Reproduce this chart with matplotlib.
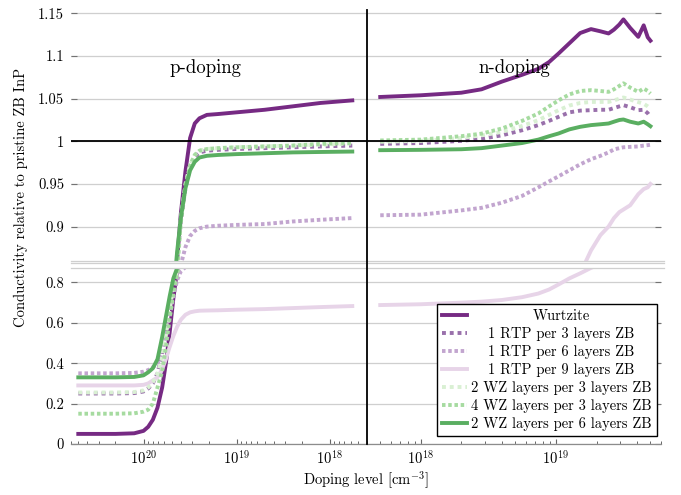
import matplotlib
matplotlib.use('Agg')
import matplotlib.pyplot as plt
import numpy as np
from matplotlib.lines import Line2D
from matplotlib.ticker import LogLocator, NullFormatter, FuncFormatter

plt.rcParams['font.family'] = 'cmr10'
plt.rcParams['mathtext.fontset'] = 'cm'
plt.rcParams['axes.formatter.use_mathtext'] = True
plt.rcParams['font.size'] = 10.5

labels = ['Wurtzite', '1 RTP per 3 layers ZB', '1 RTP per 6 layers ZB',
          '1 RTP per 9 layers ZB', '2 WZ layers per 3 layers ZB',
          '4 WZ layers per 3 layers ZB', '2 WZ layers per 6 layers ZB']
colors = ['#762a83', '#9970ab', '#c2a5cf', '#e7d4e8', '#d9f0d3', '#a6dba0', '#5aae61']
dot_wide = (0, (1.0, 1.0))
dot_tight = (0, (0.9, 0.7))
styles = ['-', dot_wide, dot_tight, '-', dot_wide, dot_tight, '-']

# p-doping, log10 of doping level [cm^-3]
p_log_doping = [20.70, 20.30, 20.10, 20.00, 19.95, 19.90, 19.85, 19.80, 19.76, 19.72,
                19.68, 19.64, 19.60, 19.55, 19.50, 19.45, 19.40, 19.32, 19.20, 19.00,
                18.70, 18.40, 18.10, 17.76]
p_wz = [0.05, 0.05, 0.053, 0.065, 0.085, 0.12, 0.18, 0.28, 0.40, 0.55,
        0.72, 0.86, 0.915, 0.965, 1.004, 1.021, 1.027, 1.031, 1.032, 1.034,
        1.037, 1.041, 1.045, 1.048]
p_rtp3 = [0.25, 0.25, 0.252, 0.26, 0.275, 0.30, 0.35, 0.45, 0.56, 0.68,
          0.79, 0.86, 0.905, 0.945, 0.97, 0.982, 0.987, 0.989, 0.990, 0.991,
          0.992, 0.993, 0.994, 0.995]
p_rtp6 = [0.35, 0.35, 0.352, 0.358, 0.366, 0.38, 0.40, 0.45, 0.53, 0.63,
          0.73, 0.81, 0.855, 0.876, 0.889, 0.895, 0.898, 0.900, 0.901, 0.902,
          0.903, 0.906, 0.908, 0.910]
p_rtp9 = [0.29, 0.29, 0.29, 0.293, 0.30, 0.315, 0.33, 0.37, 0.42, 0.48,
          0.535, 0.58, 0.615, 0.64, 0.652, 0.657, 0.66, 0.661, 0.662, 0.665,
          0.668, 0.673, 0.678, 0.683]
p_wz2_3 = [0.255, 0.255, 0.257, 0.265, 0.28, 0.305, 0.35, 0.43, 0.54, 0.66,
           0.78, 0.86, 0.91, 0.95, 0.973, 0.984, 0.989, 0.991, 0.992, 0.993,
           0.994, 0.995, 0.996, 0.9975]
p_wz4_3 = [0.15, 0.15, 0.152, 0.16, 0.17, 0.20, 0.28, 0.36, 0.48, 0.62,
           0.75, 0.845, 0.905, 0.948, 0.972, 0.984, 0.989, 0.991, 0.992, 0.993,
           0.994, 0.995, 0.997, 0.998]
p_wz2_6 = [0.33, 0.33, 0.332, 0.34, 0.355, 0.375, 0.42, 0.53, 0.63, 0.73,
           0.82, 0.87, 0.91, 0.945, 0.966, 0.976, 0.981, 0.983, 0.984, 0.985,
           0.986, 0.987, 0.9875, 0.988]

# n-doping, log10 of doping level [cm^-3]
n_log_doping = [17.70, 18.00, 18.30, 18.45, 18.60, 18.75, 18.87, 18.95, 19.02, 19.10,
                19.18, 19.26, 19.33, 19.39, 19.43, 19.47, 19.50, 19.55, 19.61, 19.65,
                19.68, 19.70]
n_wz = [1.052, 1.054, 1.057, 1.061, 1.070, 1.078, 1.085, 1.093, 1.103, 1.115,
        1.127, 1.1316, 1.129, 1.1265, 1.131, 1.137, 1.143, 1.133, 1.1225, 1.136,
        1.122, 1.118]
n_rtp3 = [0.997, 0.998, 1.0005, 1.003, 1.007, 1.013, 1.019, 1.024, 1.0287, 1.034,
          1.036, 1.0365, 1.037, 1.037, 1.039, 1.041, 1.0424, 1.040, 1.0365, 1.037,
          1.033, 1.0287]
n_rtp6 = [0.9133, 0.914, 0.919, 0.922, 0.928, 0.936, 0.946, 0.953, 0.959, 0.966,
          0.973, 0.979, 0.983, 0.987, 0.9905, 0.992, 0.993, 0.9935, 0.994, 0.995,
          0.9955, 0.996]
n_rtp9 = [0.688, 0.692, 0.700, 0.705, 0.713, 0.727, 0.745, 0.765, 0.79, 0.82,
          0.845, 0.872, 0.89, 0.90, 0.91, 0.917, 0.920, 0.925, 0.938, 0.944,
          0.946, 0.950]
n_wz2_3 = [0.9995, 1.0005, 1.004, 1.007, 1.011, 1.018, 1.0248, 1.031, 1.0365, 1.042,
           1.045, 1.0462, 1.0462, 1.0462, 1.048, 1.050, 1.0514, 1.049, 1.046, 1.044,
           1.041, 1.0385]
n_wz4_3 = [1.001, 1.002, 1.006, 1.009, 1.015, 1.024, 1.0326, 1.041, 1.048, 1.055,
           1.059, 1.060, 1.059, 1.058, 1.061, 1.065, 1.068, 1.063, 1.058, 1.062,
           1.059, 1.056]
n_wz2_6 = [0.9896, 0.990, 0.9907, 0.992, 0.995, 0.998, 1.002, 1.006, 1.0092, 1.014,
           1.017, 1.019, 1.020, 1.0209, 1.023, 1.025, 1.0256, 1.023, 1.0209, 1.023,
           1.020, 1.0177]

p_series = [p_wz, p_rtp3, p_rtp6, p_rtp9, p_wz2_3, p_wz4_3, p_wz2_6]
n_series = [n_wz, n_rtp3, n_rtp6, n_rtp9, n_wz2_3, n_wz4_3, n_wz2_6]

top_ticks = [0.9, 0.95, 1.0, 1.05, 1.1, 1.15]
bottom_ticks = [0, 0.2, 0.4, 0.6, 0.8]

W, H = 681, 495
fig = plt.figure(figsize=(W / 100, H / 100), dpi=100)


def px_axes(x0, y0, x1, y1):
    return fig.add_axes([x0 / W, 1 - y1 / H, (x1 - x0) / W, (y1 - y0) / H])


ax_tl = px_axes(71, 10, 367, 260.7)
ax_tr = px_axes(367, 10, 661, 260.7)
ax_bl = px_axes(71, 268.3, 367, 444)
ax_br = px_axes(367, 268.3, 661, 444)

p_x = 10.0 ** np.array(p_log_doping)
n_x = 10.0 ** np.array(n_log_doping)

for ax, x, data in [(ax_tl, p_x, p_series), (ax_bl, p_x, p_series),
                    (ax_tr, n_x, n_series), (ax_br, n_x, n_series)]:
    for y, c, ls in zip(data, colors, styles):
        ax.plot(x, y, color=c, ls=ls, lw=2.8)
    ax.set_xscale('log')
    ax.set_axisbelow(True)
    ax.yaxis.grid(True, color='#cfcfcf', lw=0.9)
    for s in ['top', 'left', 'right', 'bottom']:
        ax.spines[s].set_visible(False)

for ax in (ax_tl, ax_bl):
    ax.set_xlim(6e20, 4e17)
for ax in (ax_tr, ax_br):
    ax.set_xlim(4e17, 6e19)
    ax.yaxis.tick_right()

for ax in (ax_tl, ax_tr):
    ax.set_ylim(0.86, 1.154)
    ax.set_yticks(top_ticks)
    ax.axhline(1.0, color='black', lw=1.3, zorder=2.5)
    ax.tick_params(axis='x', which='both', bottom=False, labelbottom=False)
for ax in (ax_bl, ax_br):
    ax.set_ylim(0, 0.87)
    ax.set_yticks(bottom_ticks)
    ax.spines['bottom'].set_visible(True)
    ax.spines['bottom'].set_color('0.55')
    ax.spines['bottom'].set_linewidth(0.9)
    ax.xaxis.set_major_locator(LogLocator(base=10))
    ax.xaxis.set_minor_locator(LogLocator(base=10, subs=np.arange(2, 10)))
    ax.xaxis.set_minor_formatter(NullFormatter())
    ax.tick_params(axis='x', which='major', direction='in', length=3.8, width=0.8,
                   color='0.4', pad=4)
    ax.tick_params(axis='x', which='minor', direction='in', length=2.2, width=0.7,
                   color='0.4')

fmt = FuncFormatter(lambda v, pos: '%g' % v)
for ax in (ax_tl, ax_bl):
    ax.yaxis.set_major_formatter(fmt)
    ax.tick_params(axis='y', direction='in', length=4.5, width=0.8, color='0.45', pad=5)
for ax in (ax_tr, ax_br):
    ax.tick_params(axis='y', direction='in', length=4.5, width=0.8, color='0.45',
                   labelright=False, labelleft=False, left=False)

ax_tl.text(0.4527, 0.7687, 'p-doping', transform=ax_tl.transAxes,
           ha='center', va='center', fontsize=13.5)
ax_tr.text(0.5, 0.7687, 'n-doping', transform=ax_tr.transAxes,
           ha='center', va='center', fontsize=13.5)

# axis break lines, then the p/n split line on top
for yb in (260.7, 263.3, 268.3):
    fig.add_artist(Line2D([71 / W, 664 / W], [1 - yb / H, 1 - yb / H],
                          color='#cfcfcf', lw=0.9, transform=fig.transFigure))
fig.add_artist(Line2D([367 / W, 367 / W], [1 - 10 / H, 1 - 444 / H],
                      color='black', lw=1.3, transform=fig.transFigure, zorder=3))

fig.text(21 / W, 1 - 197 / H, 'Conductivity relative to pristine ZB InP',
         rotation=90, ha='center', va='center')
fig.text(366 / W, 1 - 480 / H, r'Doping level [cm$^{-3}$]', ha='center', va='center')

handles = ax_br.get_lines()[:7]
leg = fig.legend(handles, labels, loc='lower right',
                 bbox_to_anchor=(657 / W, 1 - 436 / H), bbox_transform=fig.transFigure,
                 borderaxespad=0, fancybox=False, framealpha=1, edgecolor='black',
                 handlelength=1.7, handletextpad=0.3, labelspacing=0.27,
                 borderpad=0.35, fontsize=10.5)
leg.get_frame().set_linewidth(1.0)

# centre the legend texts in their column
fig.canvas.draw()
renderer = fig.canvas.get_renderer()
texts = leg.get_texts()
widths = [t.get_window_extent(renderer).width for t in texts]
maxw = max(widths)
for t, w in zip(texts, widths):
    t.set_x((maxw - w) / 2)

fig.savefig('out.png', dpi=100)
